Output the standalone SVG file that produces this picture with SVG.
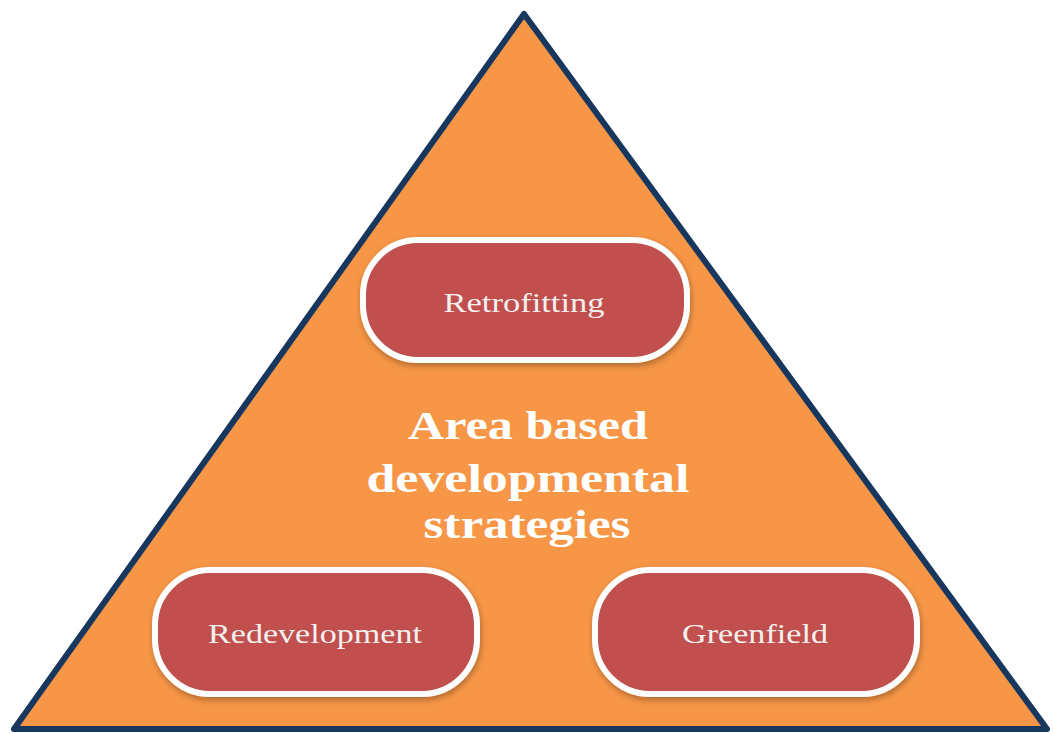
<svg xmlns="http://www.w3.org/2000/svg" width="1053" height="733" viewBox="0 0 1053 733">
<style>
.pill{fill:#c0504d;stroke:#ffffff;stroke-width:6;filter:url(#sh)}
.lbl{font-family:"Liberation Serif","Times New Roman",serif;font-size:28px;fill:#f4f0f0;text-anchor:middle}
.title{font-family:"Liberation Serif","Times New Roman",serif;font-size:40px;font-weight:bold;fill:#ffffff;text-anchor:middle}
</style>
<defs>
<filter id="sh" x="-10%" y="-10%" width="120%" height="130%">
<feDropShadow dx="1" dy="3" stdDeviation="3" flood-color="#000000" flood-opacity="0.3"/>
</filter>
</defs>
<rect width="1053" height="733" fill="#ffffff"/>
<g id="pyramid">
<polygon points="524,14 14,729 1047,729" fill="#f79646" stroke="#17375e" stroke-width="6" stroke-linejoin="round"/>
</g>
<g id="title">
<text class="title" x="528" y="439" textLength="240" lengthAdjust="spacingAndGlyphs">Area based</text>
<text class="title" x="528" y="492" textLength="323" lengthAdjust="spacingAndGlyphs">developmental</text>
<text class="title" x="527" y="538" textLength="207" lengthAdjust="spacingAndGlyphs">strategies</text>
</g>
<g id="retrofitting">
<rect class="pill" x="363" y="240" width="324" height="120" rx="55"/>
<text class="lbl" x="524" y="312" textLength="161" lengthAdjust="spacingAndGlyphs">Retrofitting</text>
</g>
<g id="redevelopment">
<rect class="pill" x="155" y="570" width="322" height="124" rx="55"/>
<text class="lbl" x="315" y="643" textLength="214" lengthAdjust="spacingAndGlyphs">Redevelopment</text>
</g>
<g id="greenfield">
<rect class="pill" x="595" y="570" width="322" height="124" rx="55"/>
<text class="lbl" x="755" y="643" textLength="146" lengthAdjust="spacingAndGlyphs">Greenfield</text>
</g>
<g id="connectors"></g>
</svg>
